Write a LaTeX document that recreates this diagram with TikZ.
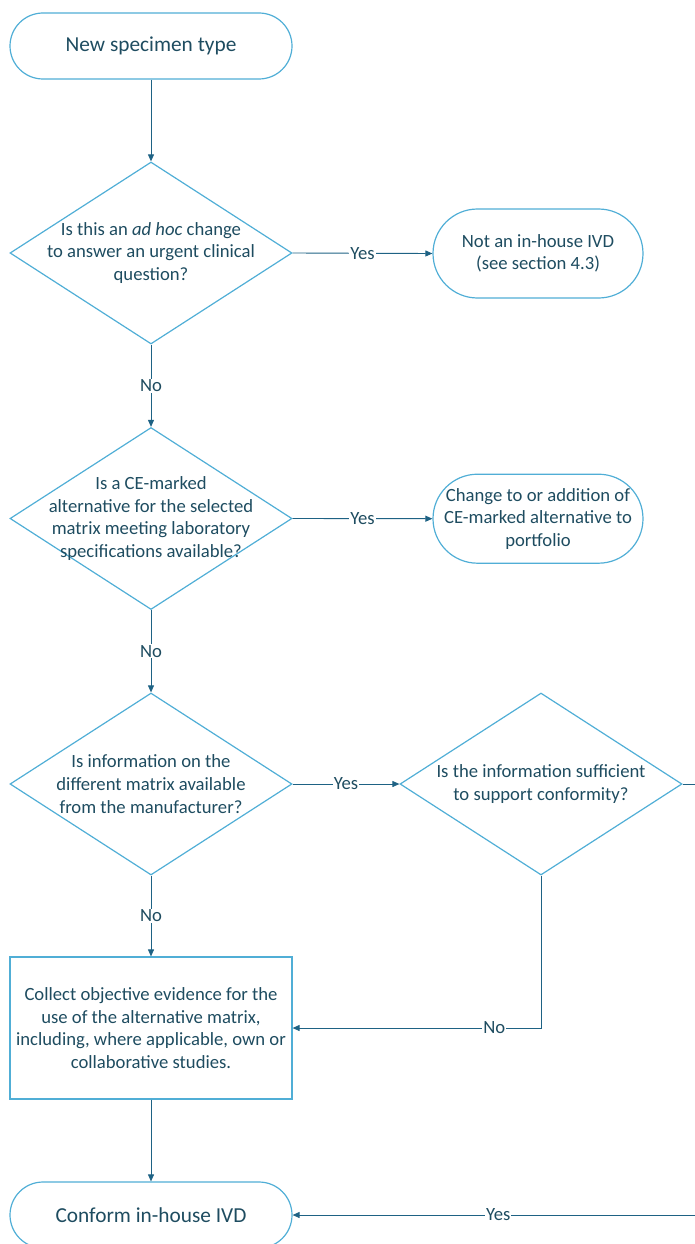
\documentclass[tikz,border=0pt]{standalone}
\usepackage{fontspec}
\setmainfont{Carlito}
\usetikzlibrary{arrows.meta,shapes.geometric}
\definecolor{outl}{RGB}{80,174,214}
\definecolor{conncol}{RGB}{30,98,132}
\definecolor{txtcol}{RGB}{30,76,96}
\begin{document}
\begin{tikzpicture}[x=1pt,y=-1pt,
  body/.style={font=\fontsize{18.67}{22.6}\selectfont},
  big/.style={font=\fontsize{21.33}{25.6}\selectfont},
  term/.style={draw=outl, line width=1.2pt, rounded corners=#1, inner sep=0pt, align=center, text=txtcol},
  dia/.style={draw=outl, line width=1.2pt, diamond, minimum width=282pt, minimum height=182pt, inner sep=0pt},
  dtext/.style={body, align=center, text=txtcol},
  procbox/.style={draw=outl, line width=1.2pt, rectangle, inner sep=0pt, align=center, text=txtcol, body},
  arr/.style={draw=conncol, line width=0.9pt, -{Triangle[length=7pt,width=6pt]}},
  lbl/.style={body, fill=white, inner sep=1pt, text=txtcol}
]
\useasboundingbox (0,0) rectangle (695,1244);
\clip (0,0) rectangle (695,1244);

\node[term=33pt, big, minimum width=282pt, minimum height=66pt] (start) at (151,46) {New specimen type};

\node[dia, label={[dtext]center:{Is this an \textit{ad hoc} change\\to answer an urgent clinical\\question?}}] (d1) at (151,253) {};
\node[term=44.5pt, body, minimum width=210pt, minimum height=89pt] (r1) at (538,253.5) {Not an in-house IVD\\(see section 4.3)};

\node[dia, label={[dtext]center:{Is a CE-marked\\alternative for the selected\\matrix meeting laboratory\\specifications available?}}] (d2) at (151,518.5) {};
\node[term=44.5pt, body, minimum width=210pt, minimum height=89pt] (r2) at (538,518.7) {Change to or addition of\\CE-marked alternative to\\portfolio};

\node[dia, label={[dtext]center:{Is information on the\\different matrix available\\from the manufacturer?}}] (d3) at (151,784) {};
\node[dia, label={[dtext]center:{Is the information sufficient\\to support conformity?}}] (d4) at (541,784) {};

\node[procbox, minimum width=282pt, minimum height=142pt] (box) at (151,1028) {Collect objective evidence for the\\use of the alternative matrix,\\including, where applicable, own or\\collaborative studies.};

\node[term=33pt, big, minimum width=282pt, minimum height=66pt] (end) at (151,1215) {Conform in-house IVD};

\coordinate (offR) at (720,784);
\coordinate (offRB) at (720,1215);

\draw[arr] (start.south) -- (d1.north);
\draw[arr] (d1.east) -- node[lbl]{Yes} (r1.west);
\draw[arr] (d1.south) -- node[lbl]{No} (d2.north);
\draw[arr] (d2.east) -- node[lbl]{Yes} (r2.west);
\draw[arr] (d2.south) -- node[lbl]{No} (d3.north);
\draw[arr] (d3.east) -- node[lbl]{Yes} (d4.west);
\draw[arr] (d3.south) -- node[lbl]{No} (box.north);
\draw[arr] (d4.south) |- node[lbl, pos=0.594]{No} (box.east);
\draw[arr] (box.south) -- (end.north);
\draw[arr] (d4.east) -- (offR) -- (offRB) -- node[lbl, pos=0.519]{Yes} (end.east);
\end{tikzpicture}
\end{document}
